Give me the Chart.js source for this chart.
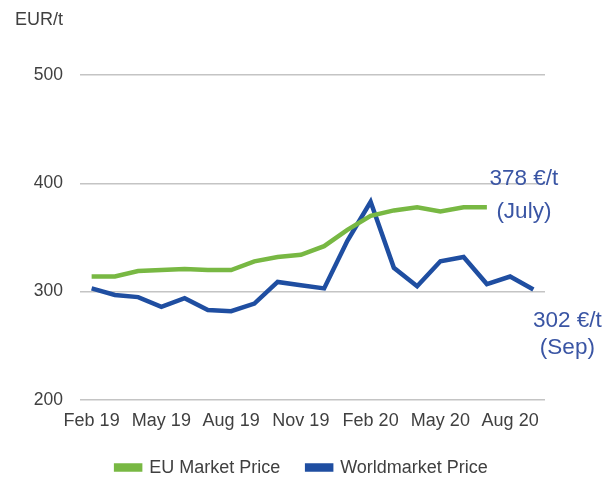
<!DOCTYPE html>
<html>
<head>
<meta charset="utf-8">
<script src="https://cdn.jsdelivr.net/npm/chart.js@4"></script>
<style>
  html, body { margin: 0; padding: 0; background: #fff; overflow: hidden; }
  #wrap { width: 616px; height: 478px; }
</style>
</head>
<body>
<div id="wrap"><canvas id="priceChart" width="616" height="478"></canvas></div>
<script>
// monthly, Feb 19 - Sep 20
const months = ["Feb 19", "Mar 19", "Apr 19", "May 19", "Jun 19", "Jul 19", "Aug 19", "Sep 19",
  "Oct 19", "Nov 19", "Dec 19", "Jan 20", "Feb 20", "Mar 20", "Apr 20", "May 20",
  "Jun 20", "Jul 20", "Aug 20", "Sep 20"];
// EU price known until July 20
const euPrice = [314, 314, 319, 320, 321, 320, 320, 328, 332, 334, 342, 357, 370, 375, 378, 374, 378, 378];
const worldPrice = [303, 297, 295, 286, 294, 283, 282, 289, 309, 306, 303, 347, 383, 322, 305, 328, 332, 307, 314, 302];
const yTicks = [200, 300, 400, 500];

const GREEN = "#78b843";
const BLUE = "#1f4ea1";
const TEXT = "#404040";
const NOTE = "#3a55a4";
const FONT = "'Liberation Sans', Arial, sans-serif";

// callout text next to the last value of each line
const endLabels = {
  id: "endLabels",
  afterDatasetsDraw(chart) {
    const { ctx, scales: { x, y } } = chart;
    ctx.save();
    ctx.fillStyle = NOTE;
    ctx.font = "22.5px " + FONT;
    ctx.textAlign = "center";
    ctx.textBaseline = "middle";

    const euLast = euPrice.length - 1;
    const ex = x.getPixelForValue(euLast) + 37;
    const ey = y.getPixelForValue(euPrice[euLast]);
    ctx.fillText(euPrice[euLast] + " €/t", ex, ey - 28);
    ctx.fillText("(July)", ex, ey + 5);

    const wLast = worldPrice.length - 1;
    const wx = x.getPixelForValue(wLast) + 34;
    const wy = y.getPixelForValue(worldPrice[wLast]);
    ctx.fillText(worldPrice[wLast] + " €/t", wx, wy + 31);
    ctx.fillText("(Sep)", wx, wy + 58);
    ctx.restore();
  }
};

// nudge the legend to the right, like in the original slide
const legendShift = {
  id: "legendShift",
  afterLayout(chart) {
    chart.legend.left += 22;
    chart.legend.right += 22;
  }
};

new Chart(document.getElementById("priceChart"), {
  type: "line",
  data: {
    labels: months,
    datasets: [
      {
        label: "EU Market Price",
        data: euPrice,
        borderColor: GREEN,
        backgroundColor: GREEN,
        borderWidth: 4.5,
        pointRadius: 0,
        tension: 0,
        fill: false
      },
      {
        label: "Worldmarket Price",
        data: worldPrice,
        borderColor: BLUE,
        backgroundColor: BLUE,
        borderWidth: 4.5,
        pointRadius: 0,
        tension: 0,
        fill: false
      }
    ]
  },
  options: {
    responsive: false,
    animation: false,
    layout: { padding: { top: 0, left: 15, right: 71, bottom: -8.6 } },
    plugins: {
      title: {
        display: true,
        text: "EUR/t",
        align: "start",
        color: TEXT,
        font: { family: FONT, size: 18, weight: "normal", lineHeight: 1.2 },
        padding: { top: 9, bottom: 44.4 }
      },
      legend: {
        position: "bottom",
        labels: {
          boxWidth: 24,
          boxHeight: 4,
          padding: 27,
          color: TEXT,
          font: { family: FONT, size: 18, lineHeight: 1 }
        }
      },
      tooltip: { enabled: false }
    },
    scales: {
      x: {
        offset: true,
        grid: { display: false, drawTicks: false },
        border: { display: false },
        afterFit: (s) => { s.height = 31.6; },
        ticks: {
          autoSkip: false,
          maxRotation: 0,
          padding: 10,
          color: TEXT,
          font: { family: FONT, size: 18 },
          callback: (v, i) => (i % 3 === 0 ? months[i] : "")
        }
      },
      y: {
        min: yTicks[0],
        max: yTicks[yTicks.length - 1],
        afterBuildTicks: (s) => { s.ticks = yTicks.map((v) => ({ value: v })); },
        afterFit: (s) => { s.width = 65; },
        grid: { color: "#c4c4c4", lineWidth: 1.5, drawTicks: false },
        border: { display: false },
        ticks: {
          padding: 17,
          color: TEXT,
          font: { family: FONT, size: 17.5 }
        }
      }
    }
  },
  plugins: [endLabels, legendShift]
});
</script>
</body>
</html>
